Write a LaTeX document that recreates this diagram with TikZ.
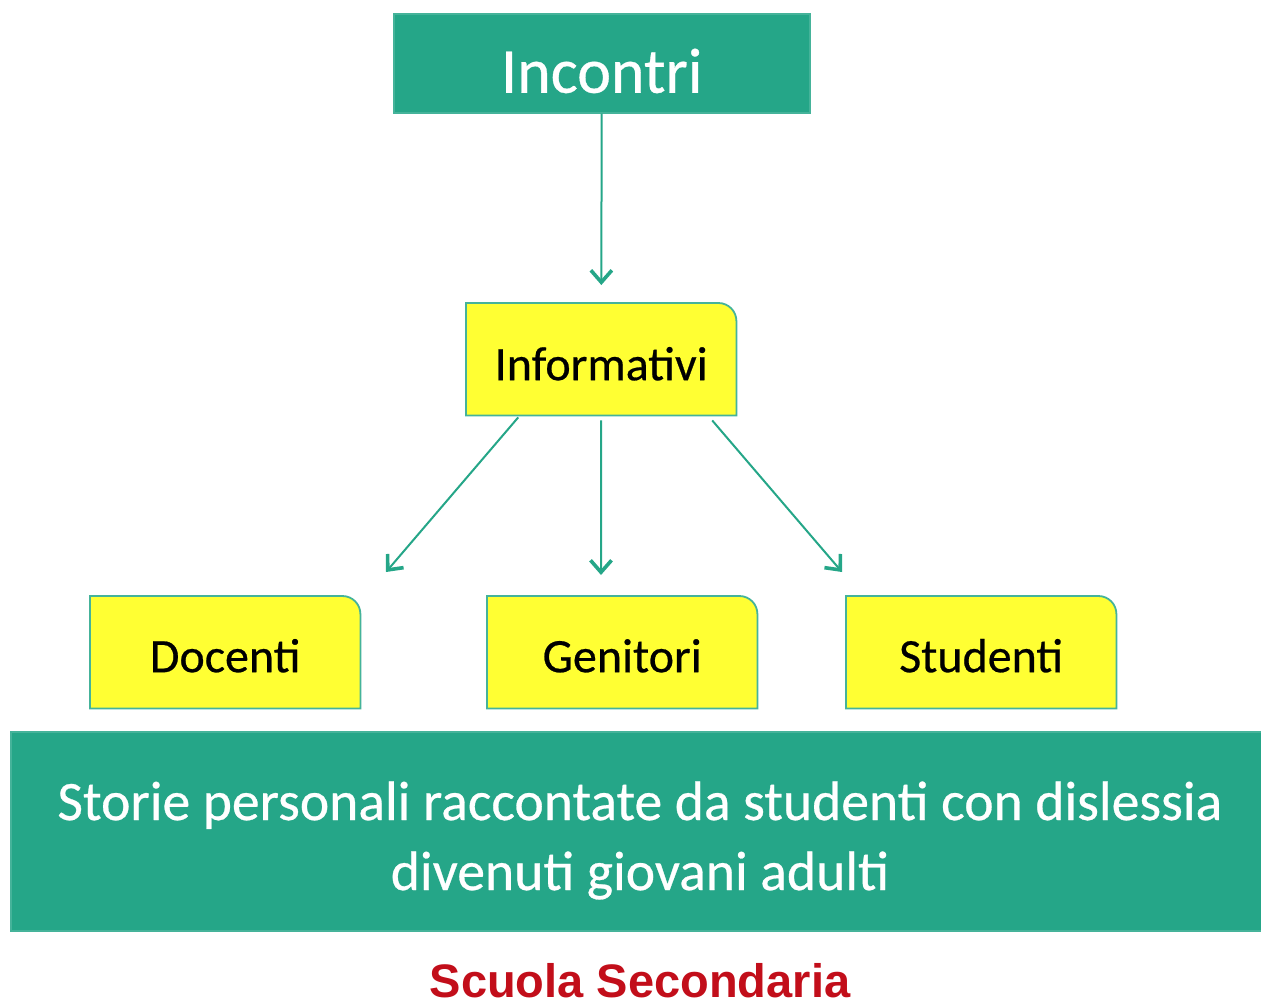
\documentclass[tikz,border=0pt]{standalone}
\usepackage{fontspec}
\setmainfont{Carlito}[FakeBold=0.5]
\newfontfamily\headfont{Liberation Sans}
\usetikzlibrary{arrows.meta,backgrounds}

\definecolor{tealfill}{HTML}{25A688}
\definecolor{tealedge}{HTML}{45B39A}
\definecolor{boxyellow}{HTML}{FFFF33}
\definecolor{schoolred}{HTML}{C20E1A}

\tikzset{
  tealbox/.style={fill=tealfill, draw=tealedge, line width=1.5pt, text=white,
    inner sep=0pt, anchor=north west},
  ylabel/.style={inner sep=0pt, anchor=north west, minimum width=270pt,
    minimum height=112pt, font=\fontsize{48}{58}\selectfont,
    text depth=0pt},
  yshape/.style={fill=boxyellow, draw=tealedge, line width=1.8pt},
  bandtext/.style={anchor=base, inner sep=0pt, text=white,
    font=\fontsize{55.6}{70}\selectfont},
  link/.style={draw=tealfill, line width=2pt,
    -{Straight Barb[length=12pt,width=21pt,line width=3.6pt]}},
}

\begin{document}
\begin{tikzpicture}[x=1pt,y=-1pt]
\useasboundingbox (0,0) rectangle (1261,1005);

% top heading
\node[tealbox, minimum width=416pt, minimum height=99pt,
      text height=59pt, text depth=0pt,
      font=\fontsize{64}{77}\selectfont] (inc) at (393,13) {Incontri};

% yellow boxes
\node[ylabel, text height=42pt] (info) at (466,303) {Informativi};
\node[ylabel, text height=40pt] (doc)  at (90,596)  {Docenti};
\node[ylabel, text height=40pt] (gen)  at (487,596) {Genitori};
\node[ylabel, text height=40pt] (stu)  at (846,596) {Studenti};

\begin{scope}[on background layer]
  \foreach \n in {info,doc,gen,stu}
    \filldraw[yshape] (\n.south west) -- (\n.north west)
      -- ([xshift=-18pt]\n.north east) arc[start angle=90, end angle=0, radius=18pt]
      -- (\n.south east) -- cycle;
\end{scope}

% arrow ends
\coordinate (dtip) at (386,572);
\coordinate (gtip) at (601,575);
\coordinate (stip) at (842,572);

\draw[link, shorten >=18pt] (inc) -- (info);
\draw[link] ([xshift=-83pt,yshift=-2pt]info.south) -- (dtip);
\draw[link] ([yshift=-5pt]info.south) -- (gtip);
\draw[link] ([xshift=111pt,yshift=-5pt]info.south) -- (stip);

% bottom band
\node[tealbox, minimum width=1260pt, minimum height=199pt] (band) at (10,731) {};
\node[bandtext] (line1) at (640,820)
  {Storie personali raccontate da studenti con dislessia};
\node[bandtext] (line2) at (640,890) {divenuti giovani adulti};

\node[anchor=base, inner sep=0pt, text=schoolred,
      font=\headfont\bfseries\fontsize{47}{56}\selectfont] (school) at (640,997)
  {Scuola Secondaria};
\end{tikzpicture}
\end{document}
